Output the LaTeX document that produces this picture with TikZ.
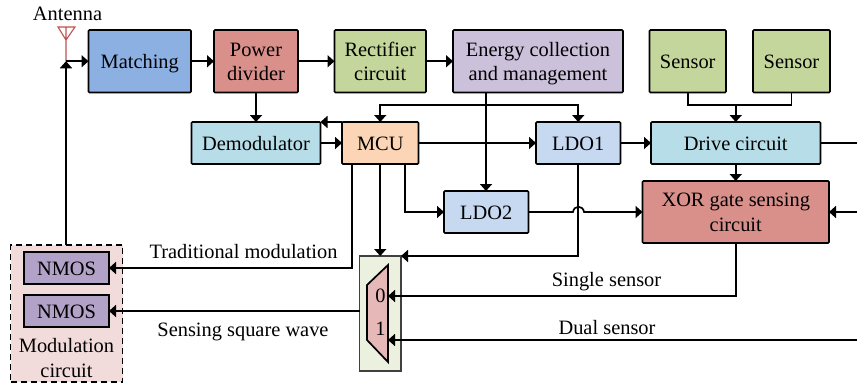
\documentclass[tikz,border=0pt]{standalone}
\usepackage{fontspec}
\setmainfont{Liberation Serif}
\usepackage{tikz}
\usetikzlibrary{arrows.meta,calc}

\definecolor{matchblue}{HTML}{8DB0E3}
\definecolor{dividerred}{HTML}{D9908B}
\definecolor{leafgreen}{HTML}{C4D69B}
\definecolor{lilac}{HTML}{CCC1DA}
\definecolor{skyblue}{HTML}{B7DEE8}
\definecolor{peach}{HTML}{FBD5B5}
\definecolor{ldoblue}{HTML}{C6D9F1}
\definecolor{nmospurple}{HTML}{B3A2C7}
\definecolor{modpink}{HTML}{F2DCDB}
\definecolor{muxgreen}{HTML}{EBF1DE}
\definecolor{muxred}{HTML}{E6B9B8}
\definecolor{antred}{HTML}{C0504D}

% line tops and bottoms, so that text sits alike in every box
\newcommand{\linetop}{\rule{0pt}{18.5pt}}
\newcommand{\linebot}{\rule[-4.5pt]{0pt}{4.5pt}}

\tikzset{
  textlines/.style={align=center, font=\fontsize{20.4}{24.5}\selectfont},
  blockbox/.style={draw, line width=1.7pt, rounded corners=1pt, inner sep=0pt, outer sep=0pt, textlines},
  wire/.style={line width=1.7pt},
  arrowwire/.style={line width=1.7pt, -{Triangle[length=7pt,width=12pt]}},
  caption/.style={inner sep=0pt, textlines},
}

\begin{document}
\begin{tikzpicture}[x=1pt,y=-1pt]
  \useasboundingbox (0,0) rectangle (857,386);
  % top row
  \node[blockbox, fill=matchblue, minimum width=102.5pt, minimum height=62.5pt] (match) at (139.75,61.25) {\linetop Matching\linebot};
  \node[blockbox, fill=dividerred, minimum width=84pt, minimum height=62.5pt] (divider) at (256,61.25) {\linetop Power\\divider\linebot};
  \node[blockbox, fill=leafgreen, minimum width=91.5pt, minimum height=62.5pt] (rectifier) at (380.25,61.25) {\linetop Rectifier\\circuit\linebot};
  \node[blockbox, fill=lilac, minimum width=170pt, minimum height=62.5pt] (energy) at (538,61.25) {\linetop Energy collection\\and management\linebot};
  \node[blockbox, fill=leafgreen, minimum width=76.5pt, minimum height=62.5pt] (sensora) at (687.75,61.25) {\linetop Sensor\linebot};
  \node[blockbox, fill=leafgreen, minimum width=77pt, minimum height=62.5pt] (sensorb) at (791.5,61.25) {\linetop Sensor\linebot};
  % middle row
  \node[blockbox, fill=skyblue, minimum width=129pt, minimum height=42pt] (demod) at (256,143) {\linetop Demodulator\linebot};
  \node[blockbox, fill=peach, minimum width=76.5pt, minimum height=42pt] (mcu) at (380.25,143) {\linetop MCU\linebot};
  \node[blockbox, fill=ldoblue, minimum width=84.5pt, minimum height=42pt] (ldoa) at (578.25,143) {\linetop LDO1\linebot};
  \node[blockbox, fill=skyblue, minimum width=169.5pt, minimum height=42pt] (drive) at (735.75,143) {\linetop Drive circuit\linebot};
  \node[blockbox, fill=ldoblue, minimum width=84.5pt, minimum height=42pt] (ldob) at (486.25,212) {\linetop LDO2\linebot};
  \node[blockbox, fill=dividerred, minimum width=186.5pt, minimum height=62pt] (xorgate) at (735.75,212) {\linetop XOR gate sensing\\circuit\linebot};
  % modulation circuit
  \node[draw, line width=1.7pt, dash pattern=on 6pt off 4pt, fill=modpink, inner sep=0pt, outer sep=0pt, minimum width=112pt, minimum height=137pt] (modbox) at (66.5,313.5) {};
  \node[blockbox, fill=nmospurple, rounded corners=0pt, minimum width=85pt, minimum height=32pt] (nmosa) at (66.5,268) {\linetop NMOS\linebot};
  \node[blockbox, fill=nmospurple, rounded corners=0pt, minimum width=85pt, minimum height=32pt] (nmosb) at (66.5,311) {\linetop NMOS\linebot};
  \node[caption] (modlabel) at (66.5,358) {\linetop Modulation\\circuit\linebot};
  % selector
  \node[draw=black!75, line width=1.3pt, fill=muxgreen, inner sep=0pt, outer sep=0pt, minimum width=41.5pt, minimum height=115pt] (muxbox) at (380.25,313.5) {};
  \draw[line width=1.7pt, fill=muxred] (388,265) -- (388,362) -- (367,340) -- (367,285) -- cycle;
  \node[caption] (muxzero) at (380.5,295) {\linetop 0\linebot};
  \node[caption] (muxone) at (380.5,328) {\linetop 1\linebot};
  % antenna
  \coordinate (antfeed) at (66,61.25);
  \draw[antred, line width=1.1pt] (antfeed) -- (66,27) (58,27) -- (75,27) -- (66,40) -- cycle;
  \node[caption] (antlabel) at (67.5,13.7) {\linetop Antenna\linebot};
  % free ends and ports
  \coordinate (mculeft) at (352,164);
  \coordinate (mcuright) at (405,164);
  \coordinate (muxzeroin) at (388,296);
  \coordinate (muxonein) at (388,340);
  \coordinate (tapup) at (486,105);
  \coordinate (sensormeet) at (735.75,105);
  \coordinate (xorin) at (857,212);
  \coordinate (driveout) at (857,143);
  \coordinate (dualin) at (857,340);
  % upper connectors
  \draw[arrowwire] (modbox.north -| antfeed) -- (antfeed);
  \draw[arrowwire] (antfeed) -- (match.west);
  \draw[arrowwire] (match.east) -- (divider.west);
  \draw[arrowwire] (divider.east) -- (rectifier.west);
  \draw[arrowwire] (rectifier.east) -- (energy.west);
  \draw[arrowwire] (divider.south) -- (demod.north);
  \draw[arrowwire] (energy.south -| tapup) -- (ldob.north -| tapup);
  \draw[arrowwire] (tapup) -| (mcu.north);
  \draw[arrowwire] (tapup) -| (ldoa.north);
  \draw[arrowwire] (demod.east) -- (mcu.west);
  \draw[arrowwire] (mcu.north west) -- (demod.north east);
  \draw[arrowwire] (mcu.east) -- (ldoa.west);
  \draw[arrowwire] (ldoa.east) -- (drive.west);
  \draw[wire] (drive.east) -- (driveout);
  \draw[wire] (sensora.south) |- (sensormeet) -| (sensorb.south);
  \draw[arrowwire] (sensormeet) -- (drive.north);
  \draw[arrowwire] (drive.south) -- (xorgate.north);
  \draw[arrowwire] (xorin) -- (xorgate.east);
  % lower connectors
  \draw[arrowwire] (mcuright) |- (ldob.west);
  \draw[arrowwire] (ldob.east) -- (573,212) .. controls (574,205) and (583,205) .. (584,212) -- (xorgate.west);
  \draw[arrowwire] (mculeft) |- (nmosa.east);
  \draw[arrowwire] (mcu.south) -- (muxbox.north);
  \draw[arrowwire] (ldoa.south) |- (muxbox.north east);
  \draw[arrowwire] (muxbox.west |- nmosb) -- (nmosb.east);
  \draw[arrowwire] (xorgate.south) |- (muxzeroin);
  \draw[arrowwire] (dualin) -- (muxonein);
  % labels
  \node[caption] (tradlabel) at (243.5,251.3) {\linetop Traditional modulation\linebot};
  \node[caption] (senselabel) at (243,329.7) {\linetop Sensing square wave\linebot};
  \node[caption] (singlelabel) at (606.5,279.7) {\linetop Single sensor\linebot};
  \node[caption] (duallabel) at (607,327) {\linetop Dual sensor\linebot};
\end{tikzpicture}
\end{document}
